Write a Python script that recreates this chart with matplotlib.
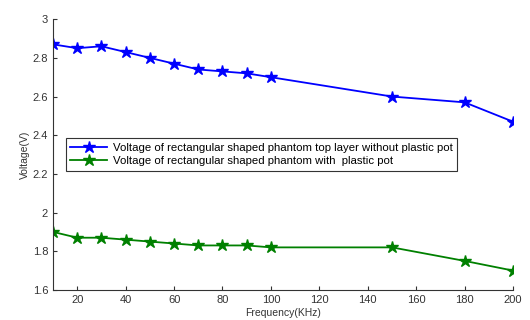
import numpy as np
import matplotlib
matplotlib.use("Agg")
from matplotlib import pyplot as plt

plt.rcParams['font.family'] = ['Liberation Sans', 'DejaVu Sans']

freq = [10, 20, 30, 40, 50, 60, 70, 80, 90, 100, 150, 180, 200]
v_top = [2.87, 2.85, 2.86, 2.83, 2.80, 2.77, 2.74, 2.73, 2.72, 2.70, 2.60, 2.57, 2.47]
v_pot = [1.90, 1.87, 1.87, 1.86, 1.85, 1.84, 1.83, 1.83, 1.83, 1.82, 1.82, 1.75, 1.70]
xticks = [20, 40, 60, 80, 100, 120, 140, 160, 180, 200]
yticks = [1.6, 1.8, 2.0, 2.2, 2.4, 2.6, 2.8, 3.0]
ylabels = ['1.6', '1.8', '2', '2.2', '2.4', '2.6', '2.8', '3']

fig = plt.figure(figsize=(5.3, 3.2), dpi=100)
ax = fig.add_axes([0.1, 0.094, 0.868, 0.846])

ax.plot(freq, v_top, color='#0000ff', marker='*', markersize=9, lw=1.3,
        label='Voltage of rectangular shaped phantom top layer without plastic pot')
ax.plot(freq, v_pot, color='#008000', marker='*', markersize=9, lw=1.3,
        label='Voltage of rectangular shaped phantom with  plastic pot')

ax.set_xlim(10, 200)
ax.set_ylim(1.6, 3.0)
ax.set_xticks(xticks)
ax.set_yticks(yticks)
ax.set_yticklabels(ylabels)
ax.tick_params(direction='in', labelsize=8, colors='#333333', length=3)
for s in ['top', 'right']:
    ax.spines[s].set_visible(False)
for s in ['left', 'bottom']:
    ax.spines[s].set_color('#333333')

ax.set_xlabel('Frequency(KHz)', fontsize=7.5, color='#333333', labelpad=2)
ax.set_ylabel('Voltage(V)', fontsize=7.5, color='#333333', labelpad=2)

leg = ax.legend(loc='upper left', bbox_to_anchor=(0.028, 0.561), fontsize=8.2,
                fancybox=False, framealpha=1, borderpad=0.4, labelspacing=0.3,
                handlelength=3.2, handletextpad=0.5, borderaxespad=0)
leg.get_frame().set_edgecolor('#333333')
leg.get_frame().set_linewidth(0.8)

fig.savefig('out.png', dpi=100)
